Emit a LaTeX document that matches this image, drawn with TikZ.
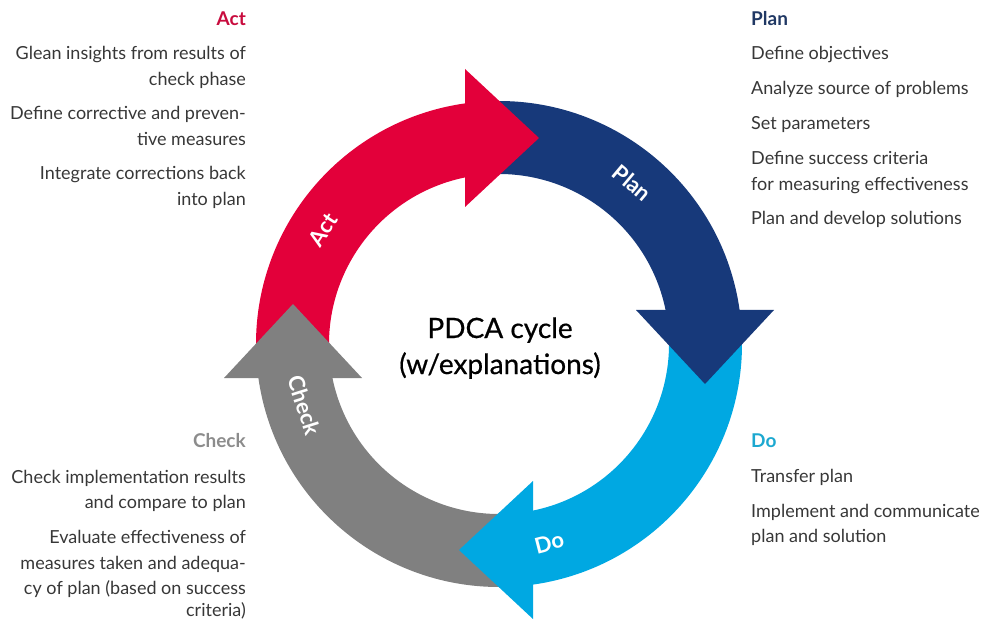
\documentclass[tikz,border=0pt]{standalone}
\usepackage{fontspec}
\setmainfont{Lato}
\usetikzlibrary{calc}
\definecolor{actred}{RGB}{227,0,58}
\definecolor{planblue}{RGB}{23,57,122}
\definecolor{doblue}{RGB}{0,168,226}
\definecolor{checkgray}{RGB}{128,128,128}
\definecolor{acttitle}{RGB}{200,12,62}
\definecolor{plantitle}{RGB}{32,56,100}
\definecolor{dotitle}{RGB}{28,168,208}
\definecolor{checktitle}{RGB}{140,140,140}
\definecolor{bodytext}{RGB}{55,55,55}
\begin{document}
\begin{tikzpicture}[x=1pt,y=1pt,
  body/.style={inner sep=0pt, text=bodytext, font=\fontsize{18}{21}\selectfont},
  lcol/.style={body, anchor=base east},
  rcol/.style={body, anchor=base west},
  ttl/.style={inner sep=0pt, font=\fontsize{19}{21}\selectfont\bfseries},
  ringlabel/.style={inner sep=0pt, text=white, font=\fontsize{22}{24}\selectfont\bfseries},
  centre/.style={inner sep=0pt, anchor=base, text=black,
    font=\fontsize{28}{32}\selectfont\addfontfeature{FakeBold=0.6}}]
\useasboundingbox (0,0) rectangle (984,619);
\coordinate (C) at (499,275);

% ring segments (drawn first, so every head lies on the next segment's tail)
\foreach \a/\col in {0/actred,-90/planblue,-180/doblue,90/checkgray}{
  \begin{scope}[shift={(C)},rotate=\a]
    \fill[\col] (182:243) arc[start angle=182,end angle=98.04,radius=243]
      -- (101.54:170) arc[start angle=101.54,end angle=182,radius=170] -- cycle;
  \end{scope}
}
% arrow heads
\foreach \a/\col in {0/actred,-90/planblue,-180/doblue,90/checkgray}{
  \begin{scope}[shift={(C)},rotate=\a]
    \fill[\col] (-34,275) -- (40,206) -- (-34,137) -- cycle;
  \end{scope}
}

% labels on the ring
\node[ringlabel,rotate=57]    (lact)   at ($(C)+(147:210)$) {Act};
\node[ringlabel,rotate=-40]   (lplan)  at ($(C)+(50.4:209)$) {Plan};
\node[ringlabel,rotate=14.5]  (ldo)    at ($(C)+(-75.8:205)$) {Do};
\node[ringlabel,rotate=-72.5] (lcheck) at ($(C)+(197.5:204)$) {Check};

% centre title
\node[centre] (t1) at (500,281) {PDCA cycle};
\node[centre] (t2) at (500,245) {(w/explanations)};

% Act
\node[ttl,anchor=base east,text=acttitle] (act) at (246,593) {Act};
\node[lcol] (a1) at (246,559) {Glean insights from results of};
\node[lcol] (a2) at (246,533) {check phase};
\node[lcol] (a3) at (246,499) {Define corrective and preven-};
\node[lcol] (a4) at (246,473) {tive measures};
\node[lcol] (a5) at (246,439) {Integrate corrections back};
\node[lcol] (a6) at (246,413) {into plan};

% Plan
\node[ttl,anchor=base west,text=plantitle] (plan) at (751,593) {Plan};
\node[rcol] (p1) at (751,559) {Define objectives};
\node[rcol] (p2) at (751,524) {Analyze source of problems};
\node[rcol] (p3) at (751,489) {Set parameters};
\node[rcol] (p4) at (751,454) {Define success criteria};
\node[rcol] (p5) at (751,428) {for measuring effectiveness};
\node[rcol] (p6) at (751,394) {Plan and develop solutions};

% Check
\node[ttl,anchor=base east,text=checktitle] (check) at (246,172) {Check};
\node[lcol] (c1) at (246,136) {Check implementation results};
\node[lcol] (c2) at (246,111) {and compare to plan};
\node[lcol] (c3) at (246,76) {Evaluate effectiveness of};
\node[lcol] (c4) at (246,50) {measures taken and adequa-};
\node[lcol] (c5) at (246,25) {cy of plan (based on success};
\node[lcol] (c6) at (246,3) {criteria)};

% Do
\node[ttl,anchor=base west,text=dotitle] (do) at (751,172) {Do};
\node[rcol] (d1) at (751,137) {Transfer plan};
\node[rcol] (d2) at (751,102) {Implement and communicate};
\node[rcol] (d3) at (751,77) {plan and solution};
\end{tikzpicture}
\end{document}
